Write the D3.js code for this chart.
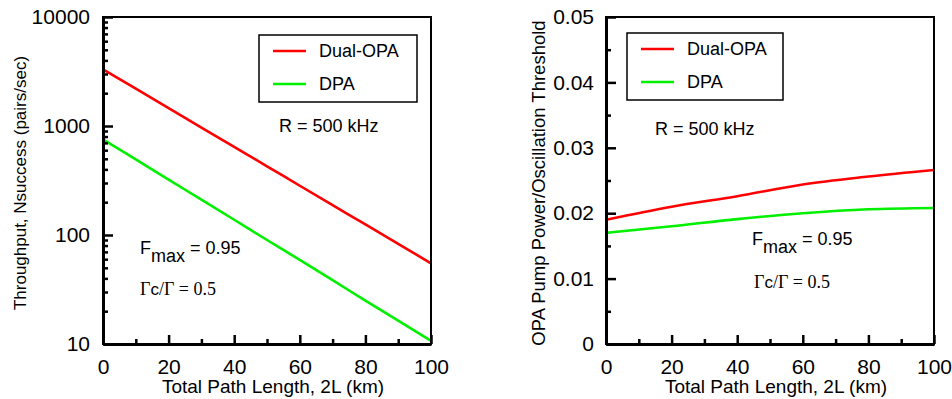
<!DOCTYPE html>
<html><head><meta charset="utf-8">
<script src="https://cdn.jsdelivr.net/npm/d3@7"></script>
<style>body{margin:0;background:#fff}svg{display:block}</style>
</head><body>
<svg id="c" width="952" height="399"></svg>
<script>
// ---- data ----
const pathLength = [0,10,20,30,40,50,60,70,80,90,100];
const throughputDualOPA = [3310,2200,1460,968,643,427,283,188,125,83,55];
const throughputDPA = [755,493,322,211,138,90,59,38.5,25,16.4,10.7];
const pumpLength = [0,20,40,60,80,100];
const pumpDualOPA = [0.0190,0.0210,0.0226,0.0244,0.0256,0.0266];
const pumpDPA = [0.0170,0.0180,0.0191,0.0200,0.0206,0.0208];
const xTicks = [0,20,40,60,80,100];
const xMinor = [10,30,50,70,90];
const logTicks = [10,100,1000,10000];
const logMinor = [20,30,40,50,60,70,80,90,200,300,400,500,600,700,800,900,2000,3000,4000,5000,6000,7000,8000,9000];
const linTicks = [0,0.01,0.02,0.03,0.04,0.05];
const linMinor = [0.005,0.015,0.025,0.035,0.045];
const seriesNames = ["Dual-OPA","DPA"];
const colors = ["#ff0000","#00f000"];

const svg = d3.select("#c");
const sans = "Arial, 'Liberation Sans', sans-serif";
const serif = "'Times New Roman', 'Liberation Serif', serif";

function panel(opt){
  const g = svg.append("g");
  const x = d3.scaleLinear().domain([0,100]).range([opt.x0, opt.x1]);
  const y = opt.y;
  // series
  const line = d3.line().x(d=>x(d[0])).y(d=>y(d[1])).curve(d3.curveMonotoneX);
  opt.series.forEach((s,i)=>{
    g.append("path").datum(opt.xs.map((v,j)=>[v,s[j]]))
      .attr("d",line).attr("fill","none").attr("stroke",colors[i]).attr("stroke-width",2.6);
  });
  // frame
  g.append("rect").attr("x",opt.x0).attr("y",opt.yTop).attr("width",opt.x1-opt.x0).attr("height",opt.yBot-opt.yTop)
    .attr("fill","none").attr("stroke","#000").attr("stroke-width",2);
  // x axis
  const ax = g.append("g").attr("transform",`translate(0,${opt.yBot})`)
    .call(d3.axisBottom(x).tickValues(xTicks).tickSizeInner(-9).tickSizeOuter(0).tickPadding(15).tickFormat(d3.format("d")));
  ax.select(".domain").attr("stroke-width",3);
  ax.selectAll(".tick line").attr("stroke-width",2.5);
  ax.selectAll("text").attr("font-family",sans).attr("font-size",21).attr("fill","#000");
  const axm = g.append("g").attr("transform",`translate(0,${opt.yBot})`)
    .call(d3.axisBottom(x).tickValues(xMinor).tickSizeInner(-5).tickSizeOuter(0).tickFormat(""));
  axm.select(".domain").remove();
  axm.selectAll(".tick line").attr("stroke-width",2.5);
  // y axis
  const ay = g.append("g").attr("transform",`translate(${opt.x0},0)`)
    .call(d3.axisLeft(y).tickValues(opt.yTicks).tickSizeInner(-10).tickSizeOuter(0).tickPadding(opt.yPad).tickFormat(opt.fmt));
  ay.select(".domain").attr("stroke-width",3);
  ay.selectAll(".tick line").attr("stroke-width",2.5);
  ay.selectAll("text").attr("font-family",sans).attr("font-size",21).attr("fill","#000");
  const aym = g.append("g").attr("transform",`translate(${opt.x0},0)`)
    .call(d3.axisLeft(y).tickValues(opt.yMinor).tickSizeInner(-5).tickSizeOuter(0).tickFormat(""));
  aym.select(".domain").remove();
  aym.selectAll(".tick line").attr("stroke-width",2.5);
  // titles
  g.append("text").attr("x",(opt.x0+opt.x1)/2+6).attr("y",393).attr("text-anchor","middle")
    .attr("font-family",sans).attr("font-size",19).text("Total Path Length, 2L (km)");
  g.append("text").attr("transform",`translate(${opt.ytx},${opt.yty}) rotate(-90)`).attr("text-anchor","middle")
    .attr("font-family",sans).attr("font-size",opt.ytSize).text(opt.ytitle);
  // legend
  const L = opt.leg;
  g.append("rect").attr("x",L.x).attr("y",L.y).attr("width",L.w).attr("height",L.h)
    .attr("fill","#fff").attr("stroke","#000").attr("stroke-width",1.5);
  seriesNames.forEach((n,i)=>{
    const ly = L.y + 16 + i*33;
    g.append("line").attr("x1",L.x+14).attr("x2",L.x+47).attr("y1",ly).attr("y2",ly)
      .attr("stroke",colors[i]).attr("stroke-width",2.6);
    g.append("text").attr("x",L.x+60).attr("y",ly+5.5).attr("font-family",sans).attr("font-size",18).text(n);
  });
  // annotations
  g.append("text").attr("x",opt.rx).attr("y",opt.ry).attr("font-family",sans).attr("font-size",18).text("R = 500 kHz");
  const f = g.append("text").attr("x",opt.fx).attr("y",opt.fy).attr("font-family",sans).attr("font-size",18);
  f.append("tspan").text("F");
  f.append("tspan").attr("dy",8).text("max");
  f.append("tspan").attr("dy",-8).text(" = 0.95");
  const gm = g.append("text").attr("x",opt.gx).attr("y",opt.gy).attr("font-family",serif).attr("font-size",18);
  gm.append("tspan").text("Γ");
  gm.append("tspan").attr("font-family",sans).attr("font-size",17).text("c");
  gm.append("tspan").text("/Γ = 0.5");
}

panel({
  x0:103, x1:431, yTop:17, yBot:344,
  y: d3.scaleLog().domain([10,10000]).range([344,17]),
  xs: pathLength, series:[throughputDualOPA, throughputDPA],
  yTicks: logTicks, yMinor: logMinor, yPad: 13, fmt: d3.format("d"),
  ytitle:"Throughput, Nsuccess (pairs/sec)", ytx:26, yty:183, ytSize:17,
  leg:{x:259,y:35,w:158,h:67},
  rx:279, ry:132, fx:140, fy:254, gx:140, gy:295
});
panel({
  x0:606, x1:934, yTop:17, yBot:344,
  y: d3.scaleLinear().domain([0,0.05]).range([344,17]),
  xs: pumpLength, series:[pumpDualOPA, pumpDPA],
  yTicks: linTicks, yMinor: linMinor, yPad: 12, fmt: d=> d===0 ? "0" : d3.format(".2f")(d),
  ytitle:"OPA Pump Power/Oscillation Threshold", ytx:545, yty:183, ytSize:18.5,
  leg:{x:627,y:33,w:156,h:67},
  rx:655, ry:135, fx:752, fy:245, gx:754, gy:288
});
</script>
</body></html>
